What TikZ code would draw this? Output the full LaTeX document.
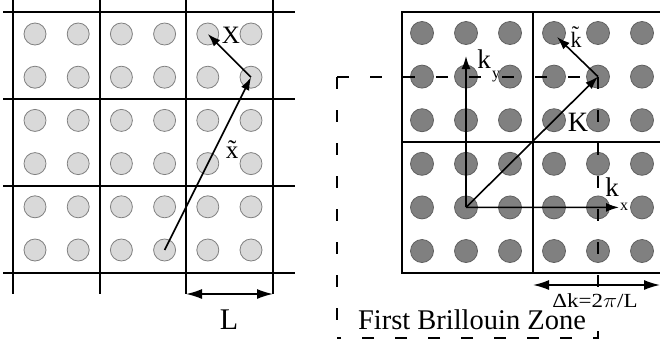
\documentclass[tikz,border=0pt]{standalone}
\usepackage{fontspec}
\setmainfont{Liberation Serif}
\usetikzlibrary{arrows.meta}
\tikzset{
  lgrid/.style={line width=2pt, black},
  rgrid/.style={line width=1.6pt, black},
  ldot/.style={circle, minimum size=22pt, inner sep=0pt, fill=black!15, draw=black!50, line width=0.8pt},
  rdot/.style={circle, minimum size=23pt, inner sep=0pt, fill=black!50, draw=black!62, line width=0.8pt},
  arr/.style={line width=1.6pt, -{Latex[length=13pt,width=9pt]}},
  dbl/.style={line width=1.6pt, {Latex[length=16pt,width=10pt]}-{Latex[length=16pt,width=10pt]}},
  zone/.style={line width=1.6pt, dash pattern=on 12pt off 21pt},
  lbl/.style={inner sep=0pt, anchor=center}
}
\begin{document}
\begin{tikzpicture}[x=1pt, y=-1pt]
\useasboundingbox (0,0) rectangle (660,346);
% ---------- left panel ----------
\foreach \i in {1,...,6}{
  \foreach \j in {1,...,6}{
    \node[ldot] (l\i\j) at ({35+43.2*(\i-1)},{34+43.2*(\j-1)}) {};
  }
}
\foreach \xx in {13,100,186,273}{
  \draw[lgrid] (\xx,0) -- (\xx,294);
}
\foreach \yy in {12,99,186,273}{
  \draw[lgrid] (3,\yy) -- (295,\yy);
}
\coordinate (La) at (186,294);
\coordinate (Lb) at (273,294);
\draw[dbl] (La) -- (Lb);
\node[lbl, font=\fontsize{30}{30}\selectfont] (Lt) at (229,320) {L};
\draw[arr] (l46.center) -- (l62.center);
\draw[arr] (l62.center) -- (l51.center);
\node[lbl, font=\fontsize{25}{25}\selectfont] (Xt) at (231,35) {X};
\node[lbl, anchor=base, font=\fontsize{25}{25}\selectfont] (xt) at (232,158) {\~{x}};
% ---------- right panel ----------
\foreach \i in {1,...,6}{
  \foreach \j in {1,...,6}{
    \node[rdot] (r\i\j) at ({422+44*(\i-1)},{33+43.6*(\j-1)}) {};
  }
}
\draw[rgrid] (660,12) -- (402,12) -- (402,273) -- (660,273);
\draw[rgrid] (533,12) -- (533,273);
\draw[rgrid] (402,142) -- (660,142);
% first Brillouin zone
\coordinate (z1) at (337,77);
\coordinate (z2) at (598,77);
\coordinate (z3) at (598,338);
\coordinate (z4) at (337,338);
\draw[zone] (z1) -- (z2);
\draw[zone] (z1) -- (z4);
\draw[zone] (z2) -- (598,290);
\draw[zone] (598,331) -- (z3) -- (z4);
% arrows
\coordinate (ky) at (466,56);
\coordinate (kx) at (619,207.4);
\coordinate (kt) at (557,37);
\draw[arr] (r25.center) -- (ky);
\draw[arr] (r25.center) -- (kx);
\draw[arr] (r25.center) -- (r52.center);
\draw[arr] (r52.center) -- (kt);
\coordinate (Da) at (533,285);
\coordinate (Db) at (660,285);
\draw[dbl] (Da) -- (Db);
% labels
\node[lbl, font=\fontsize{27}{27}\selectfont] (kyk) at (484,59) {k};
\node[lbl, font=\fontsize{16}{16}\selectfont] (kyy) at (496,77) {y};
\node[lbl, font=\fontsize{27}{27}\selectfont] (kxk) at (612,187.5) {k};
\node[lbl, font=\fontsize{16}{16}\selectfont] (kxx) at (624,207) {x};
\node[lbl, font=\fontsize{28}{28}\selectfont] (Kt) at (578,122) {K};
\node[lbl, anchor=base, font=\fontsize{22}{22}\selectfont] (ktk) at (576,47) {\~{k}};
\node[lbl, anchor=base, font=\fontsize{20}{20}\selectfont, xscale=1.15] (dk) at (595,307) {Δk=2$\pi$/L};
\node[lbl, anchor=base, font=\fontsize{28.5}{28.5}\selectfont] (fbz) at (472,329.5) {First Brillouin Zone};
\end{tikzpicture}
\end{document}
